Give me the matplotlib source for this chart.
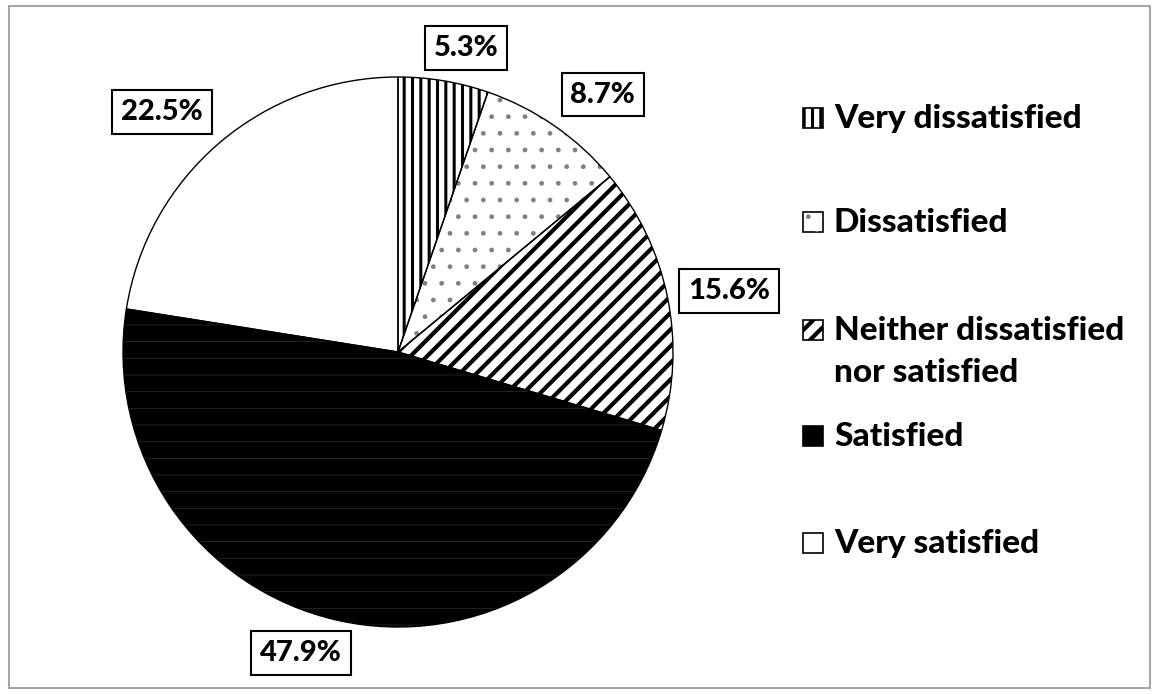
import matplotlib
matplotlib.use("Agg")
import matplotlib.pyplot as plt
from matplotlib.patches import Rectangle

# Satisfaction shares (%)
categories = ["Very dissatisfied", "Dissatisfied",
              "Neither dissatisfied\nnor satisfied", "Satisfied", "Very satisfied"]
shares = [5.3, 8.7, 15.6, 47.9, 22.5]

# fill style per slice: face, hatch, hatch colour, hatch width
faces = ["white", "white", "white", "black", "white"]
hatches = ["||", ".", "//", "-", None]
hatch_cols = ["black", "#808080", "black", "#3a3a3a", "black"]
hatch_lws = [2.2, 1.0, 3.0, 0.4, 1.0]

# label box centres (axes data units, pie radius = 1)
label_pos = [(0.247, 1.105), (0.745, 0.936), (1.204, 0.222),
             (-0.353, -1.095), (-0.858, 0.873)]

W, H = 1160, 694
plt.rcParams["font.family"] = ["Lato", "DejaVu Sans"]


def fx(px):
    return px / W


def fy(py):
    return 1 - py / H


def set_hlw(patch, lw):
    if hasattr(patch, "set_hatch_linewidth"):
        patch.set_hatch_linewidth(lw)


fig = plt.figure(figsize=(11.6, 6.94), dpi=100)
fig.patches.append(Rectangle((fx(9), fy(688)), fx(1141), 682 / H,
                             transform=fig.transFigure, fill=False,
                             edgecolor="#a6a6a6", linewidth=1.5))

ax = fig.add_axes([fx(123), fy(627), fx(550), 550 / H])
wedges, _ = ax.pie(shares, startangle=90, counterclock=False, radius=1,
                   wedgeprops=dict(linewidth=0))
for w, fc, h, hc, hl in zip(wedges, faces, hatches, hatch_cols, hatch_lws):
    w.set_facecolor(fc)
    w.set_edgecolor(hc)
    if h:
        w.set_hatch(h)
        set_hlw(w, hl)

# slice outlines on top of the hatching
ax.pie(shares, startangle=90, counterclock=False, radius=1,
       wedgeprops=dict(facecolor="none", edgecolor="black", linewidth=1.0))
ax.set_xlim(-1, 1)
ax.set_ylim(-1, 1)
ax.set_aspect("equal")
ax.axis("off")

for v, (x, y) in zip(shares, label_pos):
    ax.text(x, y, f"{v:.1f}%", ha="center", va="center", fontsize=21,
            fontweight="black", clip_on=False,
            bbox=dict(boxstyle="square,pad=0.3", facecolor="white",
                      edgecolor="black", linewidth=1.5))

# legend, drawn row by row
row_y = [118, 222, 330, 436, 543]
for name, y, fc, h, hc, hl in zip(categories, row_y, faces, hatches,
                                  hatch_cols, hatch_lws):
    box = Rectangle((fx(803), fy(y + 10)), fx(20), 20 / H,
                    transform=fig.transFigure, facecolor=fc,
                    edgecolor="black", linewidth=1.2)
    fig.patches.append(box)
    if h and fc == "white":
        inner = Rectangle((fx(803), fy(y + 10)), fx(20), 20 / H,
                          transform=fig.transFigure, facecolor="none",
                          edgecolor=hc, linewidth=0, hatch=h)
        set_hlw(inner, hl)
        fig.patches.append(inner)
    fig.text(fx(834), fy(y - 14), name, ha="left", va="top", fontsize=24,
             fontweight="black", linespacing=1.55)

fig.savefig("out.png", dpi=100)
